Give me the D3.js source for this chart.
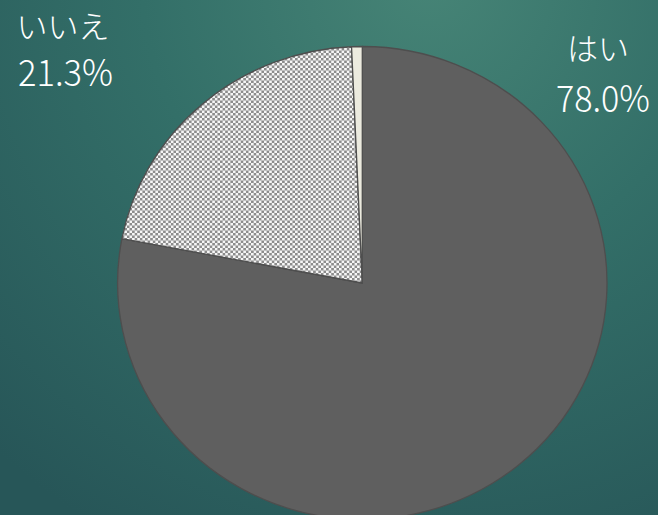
<!DOCTYPE html>
<html>
<head>
<meta charset="utf-8">
<script src="https://cdn.jsdelivr.net/npm/d3@7"></script>
<style>
  html, body { margin: 0; padding: 0; overflow: hidden; }
  svg { display: block; }
</style>
</head>
<body>
<svg id="chart" width="658" height="515"></svg>
<script>
// Survey answers, in clockwise order from 12 o'clock
const categories = ["はい", "いいえ", "その他"];
const values = [78.0, 21.3, 0.7];
const showLabel = [true, true, false];

const W = 658, H = 515;
const cx = 362.3, cy = 283;
const rx = 244.7, ry = 236.5;

const svg = d3.select("#chart");
const defs = svg.append("defs");

// teal backdrop, brightest near the top centre
const bg = defs.append("radialGradient")
  .attr("id", "bg")
  .attr("gradientUnits", "userSpaceOnUse")
  .attr("cx", 430).attr("cy", -20).attr("r", 640);
bg.append("stop").attr("offset", "0%").attr("stop-color", "#468476");
bg.append("stop").attr("offset", "45%").attr("stop-color", "#336f68");
bg.append("stop").attr("offset", "100%").attr("stop-color", "#275658");

// checkerboard for the second slice
const cell = 2.5;
const pat = defs.append("pattern")
  .attr("id", "checker")
  .attr("patternUnits", "userSpaceOnUse")
  .attr("width", cell * 2).attr("height", cell * 2);
pat.append("rect").attr("width", cell * 2).attr("height", cell * 2).attr("fill", "#f6f6f6");
pat.append("rect").attr("width", cell).attr("height", cell).attr("fill", "#8c8c8c");
pat.append("rect").attr("x", cell).attr("y", cell).attr("width", cell).attr("height", cell).attr("fill", "#8c8c8c");

svg.append("rect").attr("width", W).attr("height", H).attr("fill", "url(#bg)");

const fills = ["#5f5f5f", "url(#checker)", "#ecebdf"];

const pie = d3.pie().sort(null).value(d => d);
const arcs = pie(values);
const arc = d3.arc().innerRadius(0).outerRadius(ry);

const g = svg.append("g")
  .attr("transform", `translate(${cx},${cy}) scale(${rx / ry},1)`);

g.selectAll("path.slice")
  .data(arcs)
  .join("path")
  .attr("class", "slice")
  .attr("d", arc)
  .attr("fill", (d, i) => fills[i])
  .attr("stroke", "#4e4e4e")
  .attr("stroke-width", 1.3)
  .attr("vector-effect", "non-scaling-stroke")
  .attr("stroke-linejoin", "round");

// category name over percentage, at the chart's top corners
const labelPos = [
  { nameX: 598, nameY: 60, pctX: 603, pctY: 112, pctLen: 94 },
  { nameX: 63, nameY: 38, pctX: 65.5, pctY: 86, pctLen: 95 }
];

const fmt = d3.format(".1f");
const font = "'Noto Sans CJK JP', 'Noto Sans', sans-serif";

arcs.forEach((a, i) => {
  if (!showLabel[i]) return;
  const p = labelPos[i];
  svg.append("text")
    .attr("x", p.nameX).attr("y", p.nameY)
    .attr("text-anchor", "middle")
    .attr("fill", "#ffffff")
    .attr("font-family", font)
    .attr("font-weight", 300)
    .attr("font-size", 31)
    .text(categories[i]);
  svg.append("text")
    .attr("x", p.pctX).attr("y", p.pctY)
    .attr("text-anchor", "middle")
    .attr("fill", "#ffffff")
    .attr("font-family", font)
    .attr("font-weight", 300)
    .attr("font-size", 37)
    .attr("textLength", p.pctLen)
    .attr("lengthAdjust", "spacingAndGlyphs")
    .text(fmt(values[i]) + "%");
});
</script>
</body>
</html>
